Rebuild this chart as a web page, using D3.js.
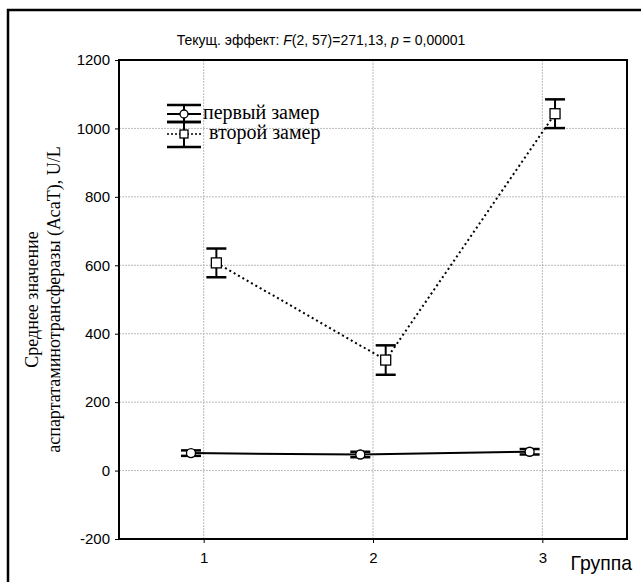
<!DOCTYPE html>
<html>
<head>
<meta charset="utf-8">
<script src="https://cdn.jsdelivr.net/npm/d3@7"></script>
<style>
  body { margin: 0; background: #fff; }
  svg { display: block; }
</style>
</head>
<body>
<svg id="chart" width="641" height="582"></svg>
<script>
// groups on the x axis
const groups = [1, 2, 3]
const yTicks = [-200, 0, 200, 400, 600, 800, 1000, 1200]

// первый замер (circles, solid)
const firstMean = [51, 47, 55]
const firstErr = [8, 8, 8]

// второй замер (squares, dotted)
const secondMean = [607, 323, 1043]
const secondErr = [42, 43, 42]

const svg = d3.select('#chart')
const margin = { top: 60, right: 14, bottom: 43, left: 119 }
const W = 641
const H = 582
const sans = 'Liberation Sans, Arial, sans-serif'
const serif = 'Liberation Serif, Times New Roman, serif'

const x = d3.scaleLinear().domain([0.5, 3.5]).range([margin.left, W - margin.right])
const y = d3.scaleLinear().domain([-200, 1200]).range([H - margin.bottom, margin.top])

// outer frame (right and bottom edges fall outside the picture)
svg.append('rect')
  .attr('x', 8).attr('y', 10)
  .attr('width', 660).attr('height', 620)
  .attr('fill', 'none').attr('stroke', '#000').attr('stroke-width', 2.5)

// grid
const grid = svg.append('g').attr('stroke', '#bbb').attr('stroke-dasharray', '2,1').attr('stroke-width', 1)
grid.selectAll('.gx').data(groups).join('line')
  .attr('x1', d => x(d)).attr('x2', d => x(d))
  .attr('y1', y(1200)).attr('y2', y(-200))
grid.selectAll('.gy').data(yTicks.slice(1, -1)).join('line')
  .attr('x1', x(0.5)).attr('x2', x(3.5))
  .attr('y1', d => y(d)).attr('y2', d => y(d))

// axes
const xAxis = d3.axisBottom(x).tickValues(groups).tickSize(4).tickFormat(d => String(d))
const yAxis = d3.axisLeft(y).tickValues(yTicks).tickSize(4).tickFormat(d => String(d))

const gx = svg.append('g').attr('transform', `translate(0,${y(-200)})`).call(xAxis)
const gy = svg.append('g').attr('transform', `translate(${x(0.5)},0)`).call(yAxis)
;[gx, gy].forEach(g => {
  g.attr('font-size', null).attr('font-family', null)
  g.select('.domain').remove()
  g.selectAll('text').style('font-family', sans).style('font-size', '15px').attr('fill', '#000')
  g.selectAll('line').attr('stroke', '#000')
})
gx.selectAll('text').attr('dy', '1.1em')
gy.selectAll('text').attr('x', -9)

// plot frame
svg.append('rect')
  .attr('x', x(0.5)).attr('y', y(1200))
  .attr('width', x(3.5) - x(0.5)).attr('height', y(-200) - y(1200))
  .attr('fill', 'none').attr('stroke', '#000').attr('stroke-width', 2)

// series
function drawSeries (means, errs, offset, dotted, shape) {
  const pts = groups.map((g, i) => ({ g: g + offset, m: means[i], e: errs[i] }))
  const line = d3.line().x(d => x(d.g)).y(d => y(d.m))
  svg.append('path')
    .attr('d', line(pts))
    .attr('fill', 'none').attr('stroke', '#000')
    .attr('stroke-width', 2)
    .attr('stroke-dasharray', dotted ? '2,3' : null)

  const eb = svg.append('g').attr('stroke', '#000')
  pts.forEach(d => {
    const cx = x(d.g)
    eb.append('line').attr('x1', cx).attr('x2', cx)
      .attr('y1', y(d.m + d.e)).attr('y2', y(d.m - d.e)).attr('stroke-width', 2)
    ;[d.m + d.e, d.m - d.e].forEach(v => {
      eb.append('line').attr('x1', cx - 10).attr('x2', cx + 10)
        .attr('y1', y(v)).attr('y2', y(v)).attr('stroke-width', 2.5)
    })
    if (shape === 'circle') {
      eb.append('circle').attr('cx', cx).attr('cy', y(d.m)).attr('r', 4.5)
        .attr('fill', '#fff').attr('stroke-width', 1.3)
    } else {
      eb.append('rect').attr('x', cx - 5).attr('y', y(d.m) - 5)
        .attr('width', 10).attr('height', 10)
        .attr('fill', '#fff').attr('stroke-width', 1.3)
    }
  })
}
drawSeries(firstMean, firstErr, -0.075, false, 'circle')
drawSeries(secondMean, secondErr, 0.075, true, 'square')

// legend
const lg = svg.append('g').attr('stroke', '#000')
function legendItem (cy, top, bottom, dotted, shape, label, tx) {
  lg.append('line').attr('x1', 167).attr('x2', 201).attr('y1', top).attr('y2', top).attr('stroke-width', 2.5)
  lg.append('line').attr('x1', 167).attr('x2', 201).attr('y1', bottom).attr('y2', bottom).attr('stroke-width', 2.5)
  lg.append('line').attr('x1', 184).attr('x2', 184).attr('y1', top).attr('y2', bottom).attr('stroke-width', 2)
  lg.append('line').attr('x1', 167).attr('x2', 201).attr('y1', cy).attr('y2', cy)
    .attr('stroke-width', dotted ? 1.5 : 2).attr('stroke-dasharray', dotted ? '2,2' : null)
  if (shape === 'circle') {
    lg.append('circle').attr('cx', 184).attr('cy', cy).attr('r', 4).attr('fill', '#fff').attr('stroke-width', 1.3)
  } else {
    lg.append('rect').attr('x', 180).attr('y', cy - 4).attr('width', 8).attr('height', 8).attr('fill', '#fff').attr('stroke-width', 1.3)
  }
  svg.append('text').attr('x', tx).attr('y', cy + 5)
    .attr('font-family', serif).attr('font-size', 20)
    .text(label)
}
legendItem(114, 105, 122, false, 'circle', 'первый замер', 203)
legendItem(134, 122, 147, true, 'square', 'второй замер', 209)

// title
const title = svg.append('text').attr('x', 321).attr('y', 45)
  .attr('text-anchor', 'middle')
  .attr('font-family', sans).attr('font-size', 14)
title.append('tspan').text('Текущ.  эффект: ')
title.append('tspan').attr('font-style', 'italic').text('F')
title.append('tspan').text('(2, 57)=271,13, ')
title.append('tspan').attr('font-style', 'italic').text('p')
title.append('tspan').text(' = 0,00001')

// axis titles
const yt = svg.append('text')
  .attr('transform', `translate(38,${(y(1200) + y(-200)) / 2}) rotate(-90)`)
  .attr('text-anchor', 'middle')
  .attr('font-family', serif).attr('font-size', 18)
yt.append('tspan').attr('x', 0).attr('dy', 0).text('Среднее значение')
yt.append('tspan').attr('x', 0).attr('dy', 22).text('аспартатаминотрансферазы (АсаТ), U/L')

svg.append('text').attr('x', 632).attr('y', 570)
  .attr('text-anchor', 'end')
  .attr('font-family', sans).attr('font-size', 20)
  .attr('transform', 'translate(632,570) scale(0.97,1) translate(-632,-570)')
  .text('Группа')
</script>
</body>
</html>
